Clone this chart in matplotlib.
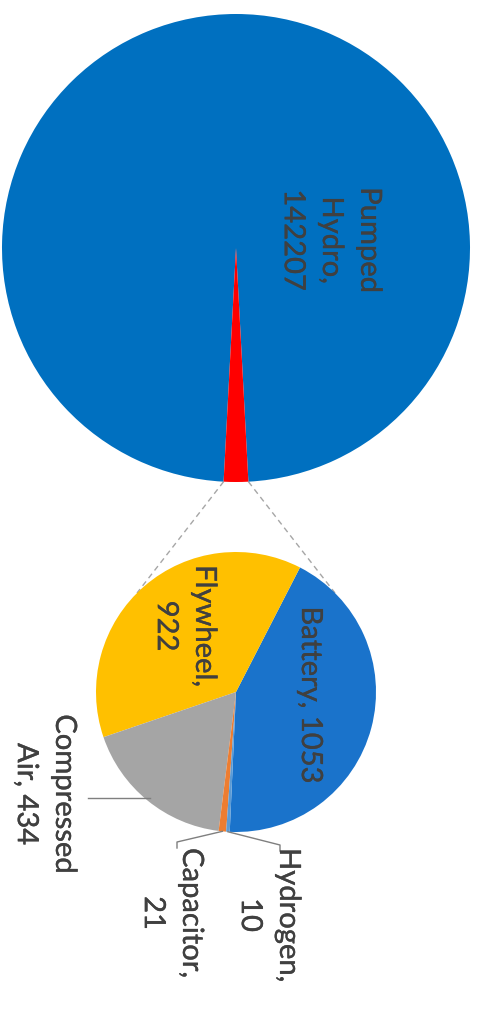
import numpy as np
import matplotlib
matplotlib.use("Agg")
import matplotlib.pyplot as plt
import matplotlib.patheffects as pe

# Installed energy-storage capacity by technology
main_labels = ["Pumped Hydro", "Other"]
pumped_hydro = 142207

detail_labels = ["Battery", "Flywheel", "Compressed Air", "Capacitor", "Hydrogen"]
detail_values = [1053, 922, 434, 21, 10]

main_colors = ["#0070C0", "#FF0000"]
detail_colors = ["#1A73CB", "#FFC000", "#A5A5A5", "#ED7D31", "#5B9BD5"]

W, H = 479, 1012
fig = plt.figure(figsize=(W / 100, H / 100), dpi=100)
ax = fig.add_axes([0, 0, 1, 1])

plt.rcParams['font.family'] = ['Lato', 'DejaVu Sans']
TXT = "#404040"
FS = 21

# --- main pie -------------------------------------------------------------
other_total = sum(detail_values)
main_values = [pumped_hydro, other_total]
total = sum(main_values)
big_c = (236, H - 249)
big_r = 234
other_deg = 360 * other_total / total
# place the "Other" slice pointing down toward the detail pie
start_main = 270 - other_deg / 2 - 360 * pumped_hydro / total
ax.pie(main_values, colors=main_colors, startangle=start_main, center=big_c,
       radius=big_r, wedgeprops=dict(linewidth=0))

# --- detail pie -----------------------------------------------------------
small_c = (236, H - 693)
small_r = 140
fracs = np.array(detail_values) / other_total
start_detail = 62.8 - 360 * fracs[0]
ax.pie(detail_values, colors=detail_colors, startangle=start_detail,
       center=small_c, radius=small_r, wedgeprops=dict(linewidth=0))

# wedge mid-angles for leader lines
edges = start_detail + 360 * np.concatenate([[0], np.cumsum(fracs)])
mids = np.deg2rad((edges[:-1] + edges[1:]) / 2)

def edge_pt(i, r=small_r):
    return (small_c[0] + r * np.cos(mids[i]), small_c[1] + r * np.sin(mids[i]))

# --- connector lines between the pies -------------------------------------
for sgn, ang in ((-1, 135), (1, 45)):
    a0 = np.deg2rad(270 + sgn * other_deg / 2)
    p0 = (big_c[0] + big_r * np.cos(a0), big_c[1] + big_r * np.sin(a0))
    a1 = np.deg2rad(ang)
    p1 = (small_c[0] + small_r * np.cos(a1), small_c[1] + small_r * np.sin(a1))
    ax.plot([p0[0], p1[0]], [p0[1], p1[1]], color="#A6A6A6", lw=1.0,
            linestyle=(0, (4, 3)), zorder=0)

# --- labels ---------------------------------------------------------------
stroke = [pe.withStroke(linewidth=0.25, foreground=TXT)]

def label(x, y, s):
    ax.text(x, H - y, s, rotation=-90, ha="center", va="center",
            multialignment="center", fontsize=FS, color=TXT, linespacing=1.58,
            rotation_mode="anchor", path_effects=stroke)

label(331, 241, f"Pumped\nHydro,\n{pumped_hydro}")
label(310, 696, f"{detail_labels[0]}, {detail_values[0]}")
label(185, 627, f"{detail_labels[1]},\n{detail_values[1]}")
label(45, 795, "Compressed\nAir, {}".format(detail_values[2]))
label(172, 914, f"{detail_labels[3]},\n{detail_values[3]}")
label(269, 916, f"{detail_labels[4]},\n{detail_values[4]}")

# leader lines
lc = dict(color="#7F7F7F", lw=1.0)
p = edge_pt(2, small_r - 3)
ax.plot([p[0], 88], [p[1], p[1]], **lc)
p = edge_pt(3)
ax.plot([p[0], 177, 177], [p[1], H - 843, H - 849], **lc)
p = edge_pt(4)
ax.plot([p[0], 280, 280], [p[1], H - 846, H - 852], **lc)

ax.set_xlim(0, W)
ax.set_ylim(0, H)
ax.set_aspect("auto")
ax.axis("off")
fig.savefig("out.png", dpi=100, facecolor="white")
